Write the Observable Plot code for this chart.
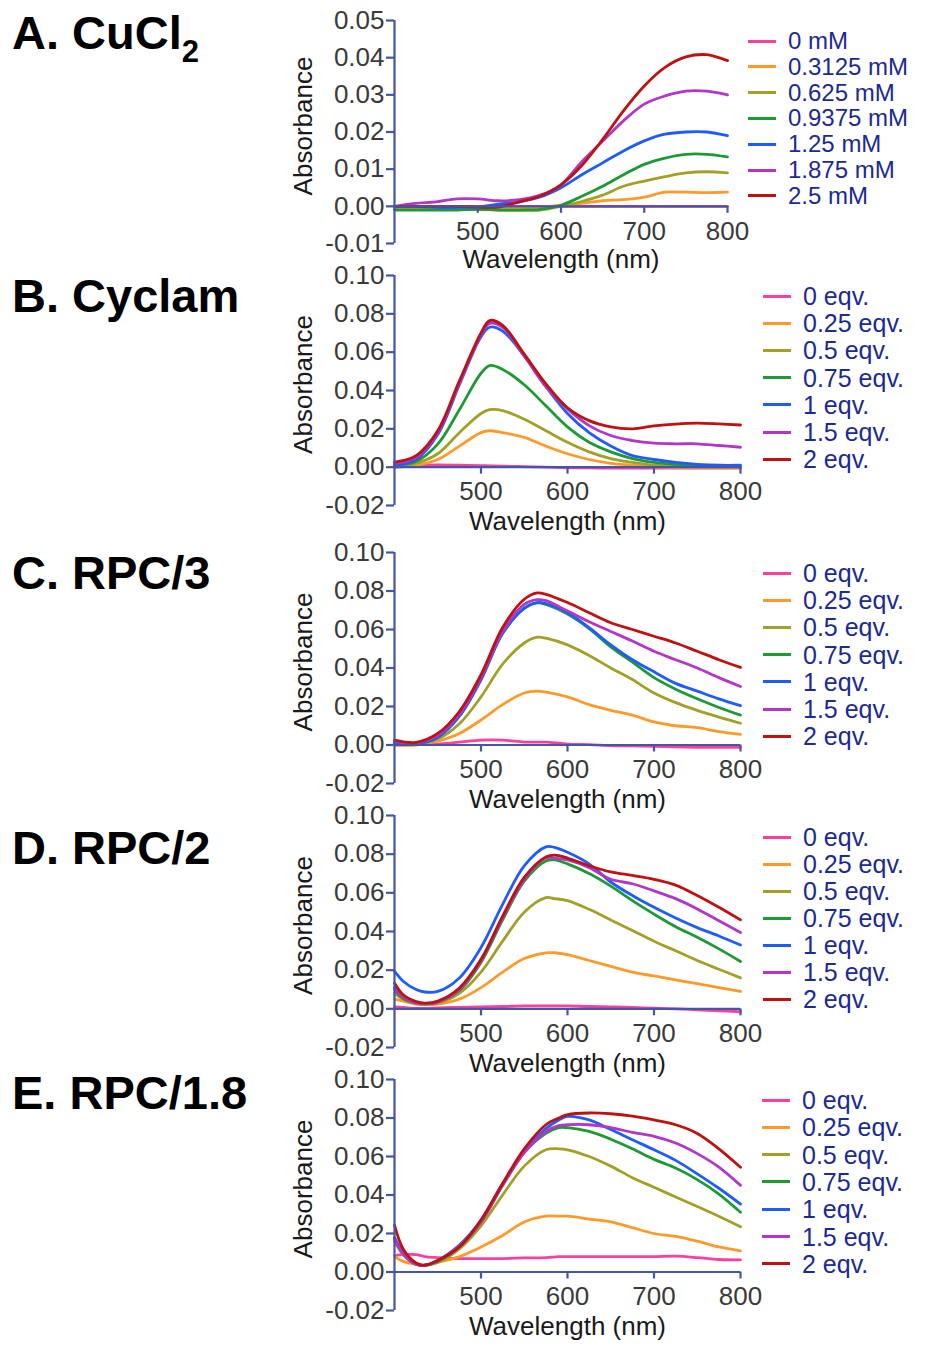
<!DOCTYPE html>
<html><head><meta charset="utf-8">
<script src="https://cdn.jsdelivr.net/npm/d3@7"></script>
<script src="https://cdn.jsdelivr.net/npm/@observablehq/plot@0.6"></script>
<style>
html,body{margin:0;padding:0;background:#fff;overflow:hidden;}
#root{position:relative;width:926px;height:1351px;overflow:hidden;font-family:"Liberation Sans",Arial,Helvetica,sans-serif;}
.panel{position:absolute;left:0;}
.title{position:absolute;left:12px;font-weight:bold;font-size:47px;color:#000;line-height:47px;white-space:nowrap;}
.lrow{position:absolute;height:24px;line-height:24px;display:flex;align-items:center;white-space:nowrap;color:#1c2a93;}
.lrow .sw{display:inline-block;width:28px;height:3px;margin-right:12px;}
</style>
</head><body><div id="root"></div>
<script>
// ---------- data ----------
const seriesColors = ["#ff3f9e", "#ff9a2a", "#a3a028", "#1d9a33", "#1f5cff", "#b236c8", "#c01010"];

const titlesA = "A. CuCl", titlesB = "B. Cyclam", titlesC = "C. RPC/3", titlesD = "D. RPC/2", titlesE = "E. RPC/1.8";
const legendA = ["0 mM", "0.3125 mM", "0.625 mM", "0.9375 mM", "1.25 mM", "1.875 mM", "2.5 mM"];
const legendEqv = ["0 eqv.", "0.25 eqv.", "0.5 eqv.", "0.75 eqv.", "1 eqv.", "1.5 eqv.", "2 eqv."];

const xTicks = [500, 600, 700, 800];
const yTicksA = [-0.01, 0, 0.01, 0.02, 0.03, 0.04, 0.05];
const yTicksBE = [-0.02, 0, 0.02, 0.04, 0.06, 0.08, 0.10];

// Panel A: CuCl2
const wlA = [400,425,450,475,500,525,550,575,600,625,650,675,700,725,750,775,800];
const absA = [
  [0,0,0,0,0,0,0,0,0,0,0,0,0,0,0,0,0],
  [-0.0005,-0.0005,-0.0005,-0.0006,-0.0005,-0.0005,-0.0005,-0.0002,0.0003,0.0008,0.0015,0.0018,0.0025,0.0038,0.0038,0.0037,0.0038],
  [-0.0008,-0.0008,-0.0008,-0.0008,-0.0008,-0.001,-0.001,-0.001,0.0,0.0013,0.003,0.0054,0.0068,0.008,0.009,0.0093,0.009],
  [-0.001,-0.001,-0.001,-0.001,-0.0008,-0.001,-0.001,-0.0008,0.0003,0.0027,0.0054,0.0085,0.0113,0.013,0.014,0.014,0.0133],
  [0,0,-0.0003,-0.0003,-0.0002,0.0006,0.0012,0.0025,0.005,0.0085,0.0117,0.0149,0.0176,0.0194,0.020,0.020,0.019],
  [0,0.0008,0.0012,0.002,0.002,0.0015,0.0018,0.003,0.0058,0.012,0.0175,0.023,0.0275,0.0297,0.031,0.031,0.030],
  [0,0,0,0,-0.0002,-0.0002,0.0012,0.0028,0.0058,0.011,0.018,0.0257,0.0324,0.0374,0.0402,0.0408,0.0392]
];

// Panel B: Cyclam
const wlB = [400,425,450,475,500,510,525,550,575,600,625,650,675,700,725,750,775,800];
const absB = [
  [0,0.0008,0.0012,0.001,0.0008,0.0007,0.0005,0.0003,0,-0.0003,-0.0004,-0.0005,-0.0005,-0.0005,-0.0005,-0.0005,-0.0005,-0.0005],
  [0,0.001,0.004,0.011,0.018,0.019,0.018,0.0155,0.011,0.007,0.004,0.002,0.001,0,-0.0002,-0.0003,-0.0003,-0.0003],
  [0.0005,0.002,0.007,0.018,0.028,0.030,0.0295,0.025,0.019,0.013,0.008,0.0045,0.0025,0.001,0.0005,0.0002,0,0],
  [0.001,0.003,0.012,0.030,0.049,0.053,0.051,0.043,0.032,0.021,0.013,0.008,0.0045,0.0025,0.0015,0.001,0.0005,0.0003],
  [0.001,0.004,0.017,0.043,0.068,0.073,0.071,0.058,0.042,0.028,0.018,0.011,0.006,0.004,0.0025,0.0015,0.001,0.001],
  [0.002,0.005,0.018,0.044,0.069,0.075,0.073,0.058,0.042,0.0304,0.0217,0.0165,0.0139,0.0125,0.0122,0.0122,0.0113,0.0104],
  [0.0026,0.006,0.019,0.045,0.070,0.0765,0.074,0.059,0.0435,0.031,0.0243,0.021,0.020,0.0215,0.0225,0.023,0.0226,0.022]
];

// Panel C: RPC/3
const wlC = [400,425,450,475,500,525,550,565,575,600,625,650,675,700,725,750,775,800];
const absC = [
  [0,0.0002,0.0005,0.0015,0.0025,0.0025,0.0015,0.0015,0.0015,0.0005,0.0002,-0.0003,-0.0005,-0.0007,-0.001,-0.0012,-0.0012,-0.0012],
  [0,0,0.002,0.006,0.013,0.021,0.027,0.028,0.0275,0.025,0.021,0.018,0.0155,0.012,0.010,0.009,0.007,0.0055],
  [0.001,0.0005,0.003,0.011,0.025,0.042,0.053,0.056,0.0555,0.052,0.0465,0.040,0.034,0.027,0.022,0.018,0.0145,0.0113],
  [0.001,0.0005,0.004,0.015,0.034,0.058,0.071,0.0738,0.073,0.068,0.0605,0.051,0.043,0.035,0.029,0.024,0.0195,0.0155],
  [0.001,0.0005,0.004,0.015,0.034,0.058,0.071,0.074,0.0735,0.0687,0.061,0.052,0.0443,0.038,0.032,0.028,0.024,0.0205],
  [0.002,0.001,0.005,0.016,0.035,0.059,0.073,0.0755,0.075,0.0696,0.064,0.059,0.054,0.0487,0.0443,0.040,0.035,0.0304],
  [0.0026,0.0014,0.006,0.0174,0.0365,0.061,0.0757,0.079,0.0783,0.074,0.0687,0.0635,0.060,0.0565,0.053,0.0487,0.0443,0.0403]
];

// Panel D: RPC/2
const wlD = [400,410,425,435,450,475,500,525,550,575,585,600,625,650,675,700,725,750,775,800];
const absD = [
  [0.001,0.0007,0.0002,0.0002,0.0005,0.0008,0.001,0.0012,0.0015,0.0015,0.0015,0.0015,0.0012,0.001,0.0007,0.0003,0,-0.0005,-0.001,-0.0015],
  [0.005,0.004,0.0025,0.0022,0.0025,0.005,0.011,0.019,0.026,0.029,0.029,0.028,0.025,0.022,0.019,0.017,0.015,0.013,0.011,0.009],
  [0.008,0.005,0.003,0.0025,0.003,0.008,0.019,0.035,0.050,0.0575,0.057,0.056,0.0515,0.046,0.0405,0.035,0.030,0.025,0.0205,0.016],
  [0.010,0.0055,0.003,0.0025,0.0035,0.0095,0.024,0.046,0.066,0.0765,0.077,0.075,0.070,0.0635,0.056,0.049,0.0425,0.037,0.031,0.0245],
  [0.0195,0.0143,0.010,0.0087,0.009,0.016,0.0317,0.054,0.074,0.0838,0.0835,0.081,0.075,0.0656,0.0586,0.0525,0.047,0.042,0.0377,0.033],
  [0.011,0.006,0.003,0.0027,0.0035,0.010,0.025,0.047,0.067,0.078,0.078,0.077,0.073,0.067,0.0647,0.061,0.057,0.0517,0.0456,0.0395],
  [0.0134,0.0073,0.0038,0.003,0.004,0.0108,0.0256,0.048,0.068,0.0786,0.0795,0.078,0.074,0.0708,0.069,0.067,0.064,0.0586,0.0525,0.046]
];

// Panel E: RPC/1.8
const wlE = [400,410,425,435,450,475,500,525,550,575,590,600,625,650,675,700,725,750,775,800];
const absE = [
  [0.0085,0.009,0.009,0.008,0.0075,0.007,0.007,0.007,0.0073,0.0075,0.008,0.008,0.008,0.008,0.008,0.008,0.0082,0.0075,0.0065,0.0063],
  [0.008,0.0055,0.004,0.0035,0.005,0.008,0.013,0.019,0.026,0.029,0.029,0.029,0.0275,0.026,0.023,0.020,0.0185,0.016,0.013,0.011],
  [0.016,0.009,0.004,0.0035,0.005,0.012,0.024,0.040,0.055,0.0635,0.064,0.0635,0.060,0.055,0.049,0.044,0.039,0.034,0.029,0.0235],
  [0.017,0.0095,0.004,0.0035,0.0055,0.013,0.026,0.045,0.062,0.072,0.075,0.075,0.073,0.069,0.064,0.0585,0.054,0.048,0.0405,0.031],
  [0.018,0.010,0.004,0.0035,0.006,0.014,0.027,0.046,0.063,0.0745,0.079,0.0808,0.079,0.074,0.0687,0.0635,0.058,0.051,0.0435,0.0353],
  [0.017,0.0095,0.004,0.0035,0.006,0.0135,0.026,0.045,0.062,0.073,0.076,0.0765,0.0765,0.075,0.0725,0.0705,0.067,0.0615,0.0545,0.045],
  [0.0243,0.012,0.0047,0.0035,0.006,0.013,0.027,0.046,0.064,0.0765,0.080,0.0817,0.0826,0.0822,0.081,0.079,0.0765,0.072,0.064,0.0544]
];

// ---------- layout ----------
const axisColor = "#4456a6";
const tickLabelColor = "#3a3a3a";
const labelColor = "#1a1a1a";
const fontFamily = '"Liberation Sans", Arial, Helvetica, sans-serif';

const panels = [
  {title: titlesA, sub: "2", wl: wlA, abs: absA, legend: legendA, yTicks: yTicksA,
   frameTop: 20, frameBottom: 243, frameRight: 727, titleCenter: 32, legX: 748, legY0: 41, legStep: 25.8, legFont: 24},
  {title: titlesB, wl: wlB, abs: absB, legend: legendEqv, yTicks: yTicksBE,
   frameTop: 275, frameBottom: 505, frameRight: 740, titleCenter: 294.5, legX: 763, legY0: 296, legStep: 27.2, legFont: 25},
  {title: titlesC, wl: wlC, abs: absC, legend: legendEqv, yTicks: yTicksBE,
   frameTop: 552, frameBottom: 783, frameRight: 740, titleCenter: 571.5, legX: 763, legY0: 573, legStep: 27.2, legFont: 25},
  {title: titlesD, wl: wlD, abs: absD, legend: legendEqv, yTicks: yTicksBE,
   frameTop: 815, frameBottom: 1047, frameRight: 740, titleCenter: 846.5, legX: 763, legY0: 837, legStep: 27, legFont: 25},
  {title: titlesE, wl: wlE, abs: absE, legend: legendEqv, yTicks: yTicksBE,
   frameTop: 1079, frameBottom: 1310, frameRight: 740, titleCenter: 1091.5, legX: 762, legY0: 1100, legStep: 27.3, legFont: 25}
];

const root = document.getElementById("root");
const fmt = d => (d < 0 ? "-" : "") + Math.abs(d).toFixed(2);
const W = 926, frameLeft = 394, mTop = 16, mBottom = 46;

panels.forEach(p => {
  const yDomain = [p.yTicks[0], p.yTicks[p.yTicks.length - 1]];
  const chart = Plot.plot({
    width: W,
    height: mTop + (p.frameBottom - p.frameTop) + mBottom,
    marginLeft: frameLeft,
    marginRight: W - p.frameRight,
    marginTop: mTop,
    marginBottom: mBottom,
    style: {background: "none", overflow: "visible", fontFamily: fontFamily},
    x: {domain: [400, 800], axis: null},
    y: {domain: yDomain, axis: null},
    marks: [
      // curves
      ...p.abs.map((vals, si) => Plot.line(vals, {
        x: (d, i) => p.wl[i], y: d => d,
        stroke: seriesColors[si], strokeWidth: 2.8, curve: "catmull-rom"
      })),
      // axes lines
      Plot.ruleY([0], {stroke: axisColor, strokeWidth: 2.2}),
      Plot.ruleX([400], {stroke: axisColor, strokeWidth: 2.2}),
      // x ticks at y = 0
      Plot.ruleX(xTicks, {x: d => d, y1: () => 0, y2: () => 0, insetBottom: -7, stroke: axisColor, strokeWidth: 2.2}),
      Plot.text(xTicks, {x: d => d, y: () => 0, dy: 25, text: d => String(d), fill: tickLabelColor, fontSize: 26}),
      // y axis
      Plot.axisY(p.yTicks, {tickFormat: fmt, tickSize: 8, tickPadding: 2, stroke: axisColor, strokeWidth: 2.2,
        fill: tickLabelColor, fontSize: 26, label: null}),
      // axis titles
      Plot.text(["Wavelength (nm)"], {frameAnchor: "bottom", dy: 24, fontSize: 26, fill: labelColor}),
      Plot.text(["Absorbance"], {frameAnchor: "left", textAnchor: "middle", rotate: -90, dx: -91, dy: -6, fontSize: 26, fill: labelColor})
    ]
  });
  const wrap = document.createElement("div");
  wrap.className = "panel";
  wrap.style.top = (p.frameTop - mTop) + "px";
  wrap.appendChild(chart);
  root.appendChild(wrap);

  // title
  const t = document.createElement("div");
  t.className = "title";
  t.style.top = (p.titleCenter - 23) + "px";
  t.textContent = p.title;
  if (p.sub) {
    const s = document.createElement("span");
    s.textContent = p.sub;
    s.style.fontSize = "31px";
    s.style.position = "relative";
    s.style.top = "13px";
    t.appendChild(s);
  }
  root.appendChild(t);

  // legend
  p.legend.forEach((lab, i) => {
    const row = document.createElement("div");
    row.className = "lrow";
    row.style.left = p.legX + "px";
    row.style.top = (p.legY0 + i * p.legStep - 12) + "px";
    row.style.fontSize = p.legFont + "px";
    const sw = document.createElement("span");
    sw.className = "sw";
    sw.style.background = seriesColors[i];
    const tx = document.createElement("span");
    tx.textContent = lab;
    row.appendChild(sw);
    row.appendChild(tx);
    root.appendChild(row);
  });
});
</script>
</body></html>
